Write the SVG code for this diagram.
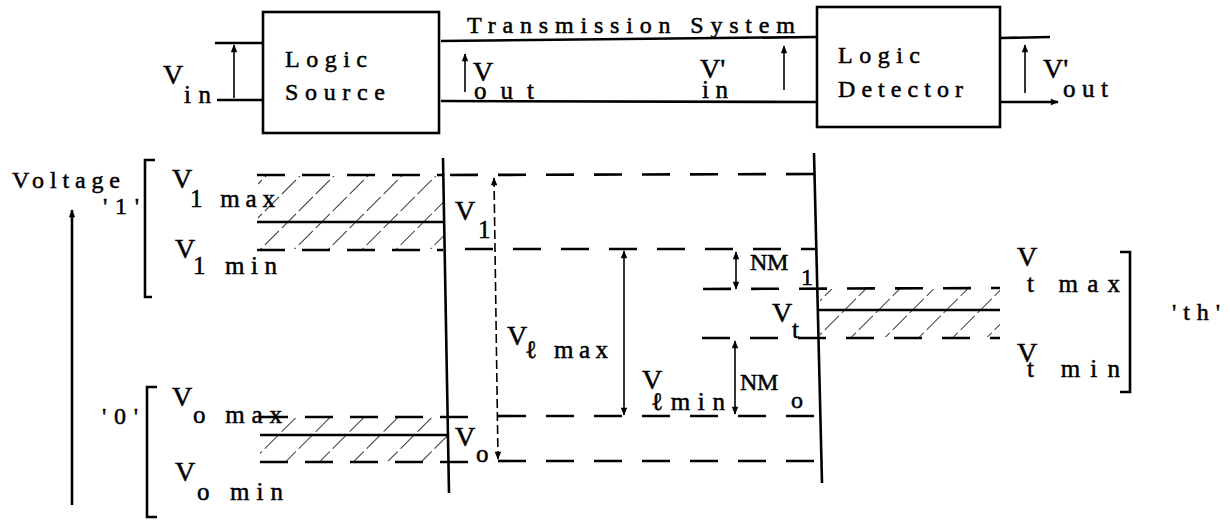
<svg xmlns="http://www.w3.org/2000/svg" width="1230" height="521" viewBox="0 0 1230 521">
<style>
text{font-family:"Liberation Serif","Times New Roman",serif;font-size:24px;fill:#000;stroke:#000;stroke-width:0.5}
.v{font-size:28px}
.s{font-size:25px}
.ln{stroke:#000;stroke-width:2.6;fill:none;stroke-linecap:butt}
.box{stroke:#000;stroke-width:2.6;fill:none}
.dash{stroke:#000;stroke-width:2.6;fill:none;stroke-dasharray:28 20}
.dashs{stroke:#000;stroke-width:2.6;fill:none;stroke-dasharray:28 17}
.arr{stroke:#000;stroke-width:1.6;fill:none}
.arrd{stroke:#000;stroke-width:1.6;fill:none;stroke-dasharray:9 4}
.brk{stroke:#000;stroke-width:2.6;fill:none}
</style>
<defs>
<marker id="ah" viewBox="0 0 10 10" refX="9" refY="5" markerWidth="10" markerHeight="8" markerUnits="userSpaceOnUse" orient="auto-start-reverse">
<path d="M0,1 L10,5 L0,9 Z" fill="#000"/>
</marker>
<pattern id="hatch" patternUnits="userSpaceOnUse" width="24" height="24" patternTransform="rotate(45)">
<line x1="0" y1="0" x2="0" y2="24" stroke="#000" stroke-width="1.6" stroke-dasharray="10 4"/>
</pattern>
</defs>

<g id="source">
<rect class="box" x="263" y="12" width="176" height="121"/>
<text x="285" y="67" textLength="82" lengthAdjust="spacing">Logic</text>
<text x="285" y="100" textLength="100" lengthAdjust="spacing">Source</text>
</g>

<g id="detector">
<rect class="box" x="817" y="7" width="183" height="120"/>
<text x="838" y="63" textLength="82" lengthAdjust="spacing">Logic</text>
<text x="838" y="97" textLength="125" lengthAdjust="spacing">Detector</text>
</g>

<g id="transmission">
<text x="467" y="33" textLength="328" lengthAdjust="spacing">Transmission System</text>
</g>

<g id="connectors">
<line class="ln" x1="215" y1="43" x2="263" y2="43"/>
<line class="ln" x1="217" y1="100" x2="263" y2="100"/>
<line class="arr" x1="234" y1="98" x2="234" y2="45" marker-end="url(#ah)"/>
<line class="ln" x1="441" y1="41" x2="817" y2="37"/>
<line class="ln" x1="441" y1="101" x2="817" y2="102"/>
<line class="arr" x1="465" y1="92" x2="465" y2="54" marker-end="url(#ah)"/>
<line class="arr" x1="784" y1="90" x2="784" y2="46" marker-end="url(#ah)"/>
<line class="ln" x1="1000" y1="38" x2="1050" y2="37"/>
<line class="ln" x1="1000" y1="102" x2="1058" y2="102" marker-end="url(#ah)"/>
<line class="arr" x1="1025" y1="93" x2="1025" y2="45" marker-end="url(#ah)"/>
</g>

<g id="top-labels">
<text class="v" x="163" y="84">V<tspan class="s" x="184" y="103" textLength="27" lengthAdjust="spacing">in</tspan></text>
<text class="v" x="473" y="81">V<tspan class="s" x="474" y="99" textLength="60" lengthAdjust="spacing">out</tspan></text>
<text class="v" x="700" y="78">V'<tspan class="s" x="702" y="98" textLength="26" lengthAdjust="spacing">in</tspan></text>
<text class="v" x="1043" y="78">V'<tspan class="s" x="1063" y="97" textLength="45" lengthAdjust="spacing">out</tspan></text>
</g>

<g id="axis">
<text x="12" y="188" textLength="108" lengthAdjust="spacing">Voltage</text>
<line class="ln" x1="72" y1="505" x2="72" y2="210" marker-end="url(#ah)"/>
<text x="103" y="214" textLength="36" lengthAdjust="spacing">'1'</text>
<path class="brk" d="M155,160 H145 V297 H152"/>
<text x="102" y="424" textLength="36" lengthAdjust="spacing">'0'</text>
<path class="brk" d="M157,387 H147 V517 H157"/>
<path class="brk" d="M1120,252 H1130 V392 H1120"/>
<text x="1172" y="320" textLength="48" lengthAdjust="spacing">'th'</text>
</g>

<g id="hatching">
<rect x="258" y="176" width="185" height="73" fill="url(#hatch)"/>
<rect x="260" y="418" width="187" height="43" fill="url(#hatch)"/>
<rect x="820" y="289" width="180" height="48" fill="url(#hatch)"/>
</g>

<g id="levels">
<line class="dashs" x1="257" y1="175" x2="443" y2="175"/>
<line class="ln" x1="257" y1="222" x2="443" y2="222"/>
<line class="dashs" x1="257" y1="250" x2="443" y2="250"/>
<line class="dashs" x1="260" y1="417" x2="477" y2="417"/>
<line class="ln" x1="260" y1="435" x2="447" y2="435"/>
<line class="dashs" x1="260" y1="462" x2="477" y2="462"/>
<line class="dash" x1="450" y1="175" x2="814" y2="174"/>
<line class="dash" x1="465" y1="249" x2="815" y2="249"/>
<line class="dash" x1="703" y1="289" x2="1000" y2="288"/>
<line class="ln" x1="818" y1="310" x2="1000" y2="310"/>
<line class="dash" x1="702" y1="338" x2="1000" y2="338"/>
<line class="dash" x1="498" y1="416" x2="821" y2="416"/>
<line class="dash" x1="498" y1="461" x2="821" y2="461"/>
<line class="ln" x1="443" y1="158" x2="449" y2="493"/>
<line class="ln" x1="814" y1="153" x2="822" y2="483"/>
<line class="arrd" x1="494" y1="178" x2="498" y2="459" marker-start="url(#ah)" marker-end="url(#ah)"/>
<line class="arr" x1="624" y1="251" x2="624" y2="415" marker-start="url(#ah)" marker-end="url(#ah)"/>
<line class="arr" x1="736" y1="252" x2="736" y2="289" marker-start="url(#ah)" marker-end="url(#ah)"/>
<line class="arr" x1="735" y1="341" x2="735" y2="414" marker-start="url(#ah)" marker-end="url(#ah)"/>
</g>

<g id="level-labels">
<text class="v" x="172" y="188">V<tspan class="s" x="190" y="207" textLength="85" lengthAdjust="spacing">1 max</tspan></text>
<text class="v" x="175" y="258">V<tspan class="s" x="193" y="274" textLength="84" lengthAdjust="spacing">1 min</tspan></text>
<text class="v" x="172" y="406">V<tspan class="s" x="193" y="423" textLength="89" lengthAdjust="spacing">o max</tspan></text>
<text class="v" x="175" y="481">V<tspan class="s" x="197" y="500" textLength="86" lengthAdjust="spacing">o min</tspan></text>
<text class="v" x="455" y="220">V<tspan class="s" x="478" y="238">1</tspan></text>
<text class="v" x="455" y="446">V<tspan class="s" x="476" y="462">o</tspan></text>
<text class="v" x="507" y="345">V<tspan class="s" x="525" y="358" textLength="83" lengthAdjust="spacing">ℓ max</tspan></text>
<text class="v" x="642" y="389">V<tspan class="s" x="651" y="410" textLength="74" lengthAdjust="spacing">ℓmin</tspan></text>
<text x="750" y="270" textLength="50" lengthAdjust="spacing">NM<tspan x="801" y="285">1</tspan></text>
<text x="740" y="390" textLength="50" lengthAdjust="spacing">NM<tspan x="791" y="408">o</tspan></text>
<text class="v" x="772" y="322">V<tspan class="s" x="792" y="338">t</tspan></text>
<text class="v" x="1017" y="266">V<tspan class="s" x="1027" y="292" textLength="93" lengthAdjust="spacing">t max</tspan></text>
<text class="v" x="1017" y="362">V<tspan class="s" x="1027" y="377" textLength="93" lengthAdjust="spacing">t min</tspan></text>
</g>
</svg>
